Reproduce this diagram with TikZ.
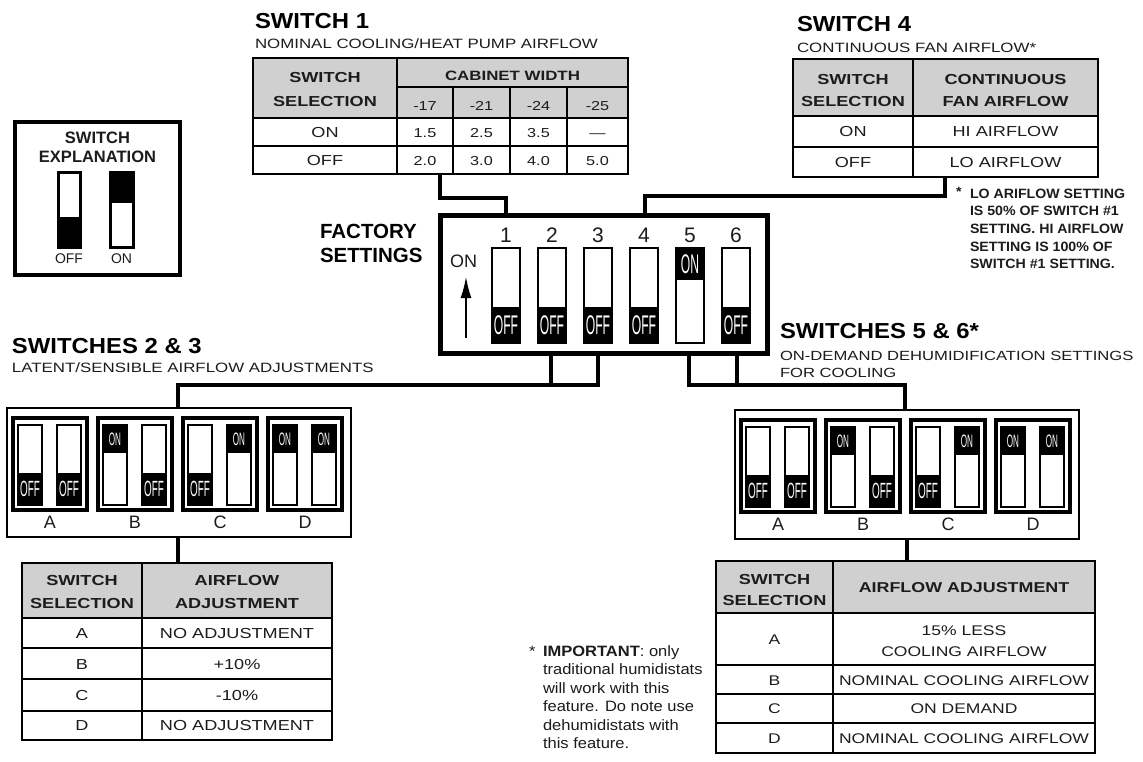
\documentclass[tikz,border=0pt]{standalone}
\usepackage{fontspec}
\setmainfont{Liberation Sans}
\newfontfamily\widef[FakeStretch=1.25]{Liberation Sans}
\newfontfamily\ttlf[FakeStretch=1.1]{Liberation Sans}
\newfontfamily\narrowf[FakeStretch=0.45]{Liberation Sans}
\newfontfamily\notef[FakeStretch=1.05]{Liberation Sans}
\newfontfamily\impf[FakeStretch=1.1]{Liberation Sans}
\usetikzlibrary{arrows.meta}
\definecolor{hdr}{RGB}{208,208,208}
\definecolor{ink}{RGB}{28,28,28}
\newcommand\fsz[1]{\fontsize{#1}{#1}\selectfont}
% switch: x, y, w, h, black height, on(1)/off(0), label size
\newcommand\swdraw[7]{%
  \ifnum#6=1
    \fill[black] (#1,#2) rectangle ++(#3,#5);
    \node[text=white] at ({#1+#3/2},{#2+#5/2}) {\narrowf\fsz{#7}ON};
  \else
    \fill[black] ({#1},{#2+#4-#5}) rectangle ++(#3,#5);
    \node[text=white] at ({#1+#3/2},{#2+#4-#5/2}) {\narrowf\fsz{#7}OFF};
  \fi
  \draw[line width=2.5pt] (#1,#2) rectangle ++(#3,#4);
}
\newcommand\swgrp[3]{\ifnum#3=1 \swdraw{#1}{#2}{24}{80}{28}{1}{18}\else\swdraw{#1}{#2}{24}{80}{32}{0}{22}\fi}
\newcommand\swgroup[3]{%
  \node[draw, line width=2.5pt, anchor=north west, minimum width=344pt, minimum height=129pt] (#3) at (#1,#2) {};
  \foreach \i/\l/\a/\b in {0/A/0/0,1/B/1/0,2/C/0/1,3/D/1/1}{
    \pgfmathsetmacro\sx{#1+6+85*\i}
    \draw[line width=4pt] (\sx,#2+10) rectangle ++(74,92);
    \swgrp{\sx+5}{#2+17}{\a}
    \swgrp{\sx+44}{#2+17}{\b}
    \node[font=\fsz{18}, text=ink] (#3\l) at (\sx+37,#2+114.5) {\l};
  }
}
\begin{document}
\begin{tikzpicture}[x=1pt,y=-1pt,
  every node/.style={inner sep=0pt, outer sep=0pt},
  conn/.style={line width=3.5pt},
  outerbox/.style={draw, line width=2.5pt, anchor=north west},
  gridln/.style={line width=2pt},
  hd/.style={anchor=base, font=\widef\bfseries\fsz{14.5}, text=ink},
  cell/.style={anchor=base, font=\widef\fsz{14.5}, text=ink},
  numcell/.style={anchor=base, font=\widef\fsz{13}, text=ink},
  ttl/.style={anchor=base west, font=\ttlf\bfseries\fsz{21.7}, text=black},
  sub/.style={anchor=base west, font=\widef\fsz{13.5}, text=ink},
  note/.style={anchor=base west, font=\notef\bfseries\fsz{13.5}, text=ink},
  imp/.style={anchor=base west, font=\impf\fsz{15}, text=ink},
]
\fill[white] (0,0) rectangle (1143,761);
\useasboundingbox (0,0) rectangle (1143,761);

% ---------------- SWITCH 1 ----------------
\node[ttl] (s1t) at (255,28) {SWITCH 1};
\node[sub] (s1s) at (255,48) {NOMINAL COOLING/HEAT PUMP AIRFLOW};
\fill[hdr] (253,58) rectangle (628,118);
\draw[gridln] (397,87) -- (628,87) (253,118) -- (628,118) (253,146) -- (628,146)
  (453,87) -- (453,174) (510,87) -- (510,174) (567,87) -- (567,174);
\draw[line width=2.5pt] (397,58) -- (397,174);
\node[outerbox, minimum width=375pt, minimum height=116pt] (tab1) at (253,58) {};
\node[hd] (t1a) at (325,82) {SWITCH};
\node[hd] (t1b) at (325,106) {SELECTION};
\node[hd, font=\widef\bfseries\fsz{13.5}] (t1c) at (512.5,80) {CABINET WIDTH};
\node[numcell] (t1d) at (425,110) {-17};
\node[numcell] (t1e) at (481.5,110) {-21};
\node[numcell] (t1f) at (538.5,110) {-24};
\node[numcell] (t1g) at (597.5,110) {-25};
\node[cell] (t1h) at (325,137) {ON};
\node[numcell] (t1i) at (425,137) {1.5};
\node[numcell] (t1j) at (481.5,137) {2.5};
\node[numcell] (t1k) at (538.5,137) {3.5};
\node[numcell] (t1l) at (597.5,137) {—};
\node[cell] (t1m) at (325,165.5) {OFF};
\node[numcell] (t1n) at (425,165.5) {2.0};
\node[numcell] (t1o) at (481.5,165.5) {3.0};
\node[numcell] (t1p) at (538.5,165.5) {4.0};
\node[numcell] (t1q) at (597.5,165.5) {5.0};

% ---------------- SWITCH 4 ----------------
\node[ttl] (s4t) at (797,31) {SWITCH 4};
\node[sub] (s4s) at (797,52) {CONTINUOUS FAN AIRFLOW*};
\fill[hdr] (793,59) rectangle (1098,116);
\draw[gridln] (793,116) -- (1098,116) (793,147) -- (1098,147);
\draw[line width=2.5pt] (913,59) -- (913,177);
\node[outerbox, minimum width=305pt, minimum height=118pt] (tab4) at (793,59) {};
\node[hd] (t4a) at (853,84) {SWITCH};
\node[hd] (t4b) at (853,106) {SELECTION};
\node[hd] (t4c) at (1005.5,84) {CONTINUOUS};
\node[hd] (t4d) at (1005.5,106) {FAN AIRFLOW};
\node[cell] (t4e) at (853,136.5) {ON};
\node[cell] (t4f) at (1005.5,136.5) {HI AIRFLOW};
\node[cell] (t4g) at (853,167) {OFF};
\node[cell] (t4h) at (1005.5,167) {LO AIRFLOW};
\node[note] (n4s) at (956,196) {*};
\node[note] (n4a) at (970,198) {LO ARIFLOW SETTING};
\node[note] (n4b) at (970,215.7) {IS 50\% OF SWITCH \#1};
\node[note] (n4c) at (970,233.4) {SETTING. HI AIRFLOW};
\node[note] (n4d) at (970,251.1) {SETTING IS 100\% OF};
\node[note] (n4e) at (970,268.8) {SWITCH \#1 SETTING.};

% ---------------- SWITCH EXPLANATION ----------------
\node[draw, line width=4pt, anchor=north west, minimum width=165pt, minimum height=153pt] (expl) at (15,122) {};
\node[anchor=base, font=\bfseries\fsz{16.5}, text=ink] (ex1) at (97.5,143) {SWITCH};
\node[anchor=base, font=\bfseries\fsz{16.5}, text=ink] (ex2) at (97.5,162) {EXPLANATION};
\fill[black] (58,217) rectangle (80,247);
\draw[line width=3pt] (58,172) rectangle (80,247);
\fill[black] (110,172) rectangle (133,203);
\draw[line width=3pt] (110,172) rectangle (133,247);
\node[anchor=base, font=\fsz{14}, text=ink] (ex3) at (69,263) {OFF};
\node[anchor=base, font=\fsz{14}, text=ink] (ex4) at (121.5,263) {ON};

% ---------------- FACTORY SETTINGS ----------------
\node[anchor=base west, font=\bfseries\fsz{20.5}, text=black] (fa1) at (320,238) {FACTORY};
\node[anchor=base west, font=\bfseries\fsz{20.5}, text=black] (fa2) at (320,262) {SETTINGS};
\node[draw, line width=5pt, anchor=north west, minimum width=327pt, minimum height=138pt] (fsbox) at (440,215) {};
\node[font=\fsz{18}, text=ink] (faon) at (463.5,261) {ON};
\coordinate (arrA) at (466,338);
\coordinate (arrB) at (466,276);
\draw[line width=2.5pt, -{Latex[length=22pt,width=11pt]}] (arrA) -- (arrB);
\foreach \i/\st in {1/0,2/0,3/0,4/0,5/1,6/0}{
  \pgfmathsetmacro\xx{492+46*(\i-1)}
  \node[font=\fsz{21}, text=ink] (num\i) at (\xx+14,235.5) {\i};
  \ifnum\st=1 \swdraw{\xx}{248}{28}{95}{32}{1}{27}\else\swdraw{\xx}{248}{28}{95}{36}{0}{27}\fi
}

% ---------------- connectors top ----------------
\coordinate (t1out) at (440,174);
\coordinate (fs1in) at (506,215);
\coordinate (t4out) at (945,177);
\coordinate (fs4in) at (645,215);
\draw[conn] (t1out) -- ++(0,24) -| (fs1in);
\draw[conn] (t4out) -- ++(0,19) -| (fs4in);

% ---------------- SWITCHES 2 & 3 ----------------
\node[ttl] (s23t) at (12,353) {SWITCHES 2 \& 3};
\node[sub] (s23s) at (12,372) {LATENT/SENSIBLE AIRFLOW ADJUSTMENTS};
\swgroup{7}{408}{g23}
\coordinate (fs2out) at (551,353);
\coordinate (fs3out) at (598,353);
\coordinate (g23in) at (178,408);
\draw[conn] (fs2out) -- ++(0,32);
\draw[conn] (fs3out) -- ++(0,32) -| (g23in);
\coordinate (g23out) at (178,537);
\coordinate (t23in) at (178,563);
\draw[conn] (g23out) -- (t23in);
\fill[hdr] (22,563) rectangle (332,618);
\draw[gridln] (22,618) -- (332,618) (22,648) -- (332,648) (22,679) -- (332,679) (22,711) -- (332,711);
\draw[line width=2.5pt] (142,563) -- (142,740);
\node[outerbox, minimum width=310pt, minimum height=177pt] (tab23) at (22,563) {};
\node[hd] (t23a) at (82,585) {SWITCH};
\node[hd] (t23b) at (82,608) {SELECTION};
\node[hd] (t23c) at (237,585) {AIRFLOW};
\node[hd] (t23d) at (237,608) {ADJUSTMENT};
\node[cell] (t23e) at (82,638) {A};
\node[cell] (t23f) at (237,638) {NO ADJUSTMENT};
\node[cell] (t23g) at (82,669) {B};
\node[cell] (t23h) at (237,669) {+10\%};
\node[cell] (t23i) at (82,700.5) {C};
\node[cell] (t23j) at (237,700.5) {-10\%};
\node[cell] (t23k) at (82,730.5) {D};
\node[cell] (t23l) at (237,730.5) {NO ADJUSTMENT};

% ---------------- SWITCHES 5 & 6 ----------------
\node[ttl] (s56t) at (780,338) {SWITCHES 5 \& 6*};
\node[sub, font=\widef\fsz{13.3}] (s56s) at (780,360) {ON-DEMAND DEHUMIDIFICATION SETTINGS};
\node[sub, font=\widef\fsz{13.3}] (s56u) at (780,377) {FOR COOLING};
\swgroup{735}{410}{g56}
\coordinate (fs5out) at (689,353);
\coordinate (fs6out) at (737,353);
\coordinate (g56in) at (905,410);
\draw[conn] (fs6out) -- ++(0,32);
\draw[conn] (fs5out) -- ++(0,32) -| (g56in);
\coordinate (g56out) at (907,539);
\coordinate (t56in) at (907,561);
\draw[conn] (g56out) -- (t56in);
\fill[hdr] (716,561) rectangle (1095,613);
\draw[gridln] (716,613) -- (1095,613) (716,665) -- (1095,665) (716,694) -- (1095,694) (716,723) -- (1095,723);
\draw[line width=2.5pt] (833,561) -- (833,753);
\node[outerbox, minimum width=379pt, minimum height=192pt] (tab56) at (716,561) {};
\node[hd] (t56a) at (774.5,584) {SWITCH};
\node[hd] (t56b) at (774.5,605) {SELECTION};
\node[hd, font=\widef\bfseries\fsz{14.3}] (t56c) at (964,592.5) {AIRFLOW ADJUSTMENT};
\node[cell, font=\widef\fsz{14}] (t56d) at (774.5,644) {A};
\node[cell, font=\widef\fsz{14}] (t56e) at (964,635) {15\% LESS};
\node[cell, font=\widef\fsz{14}] (t56f) at (964,656) {COOLING AIRFLOW};
\node[cell, font=\widef\fsz{14}] (t56g) at (774.5,685) {B};
\node[cell, font=\widef\fsz{14}] (t56h) at (964,685) {NOMINAL COOLING AIRFLOW};
\node[cell, font=\widef\fsz{14}] (t56i) at (774.5,713.5) {C};
\node[cell, font=\widef\fsz{14}] (t56j) at (964,713.5) {ON DEMAND};
\node[cell, font=\widef\fsz{14}] (t56k) at (774.5,743) {D};
\node[cell, font=\widef\fsz{14}] (t56l) at (964,743) {NOMINAL COOLING AIRFLOW};

% ---------------- IMPORTANT note ----------------
\node[imp] (im0) at (529,656) {*};
\node[imp] (im1) at (543,656) {\textbf{IMPORTANT}: only};
\node[imp] (im2) at (543,674.5) {traditional humidistats};
\node[imp] (im3) at (543,693) {will work with this};
\node[imp] (im4) at (543,711.5) {feature. Do note use};
\node[imp] (im5) at (543,730) {dehumidistats with};
\node[imp] (im6) at (543,748.5) {this feature.};
\end{tikzpicture}
\end{document}
